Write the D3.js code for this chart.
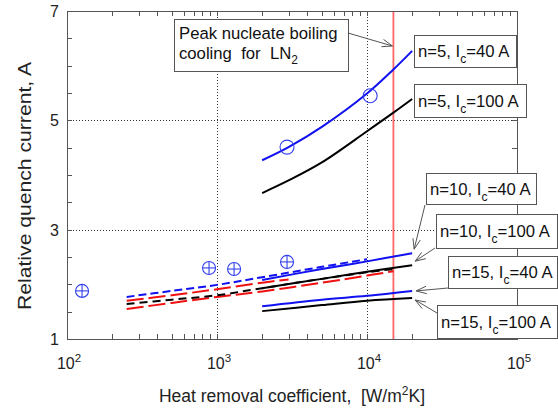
<!DOCTYPE html>
<html><head><meta charset="utf-8">
<script src="https://cdn.jsdelivr.net/npm/d3@7/dist/d3.min.js"></script>
<style>
body{margin:0;background:#fff}
svg{display:block;font-family:Arial,"Liberation Sans",sans-serif}
</style>
</head><body>
<svg id="chart" width="558" height="408"></svg>
<script>
// ---------- data ----------
const xTickValues = [1e2, 1e3, 1e4, 1e5];
const xTickExps = ["2", "3", "4", "5"];
const yTickValues = [1, 3, 5, 7];
const yMinorTicks = [1, 1.5, 2, 2.5, 3, 3.5, 4, 4.5, 5, 5.5, 6, 6.5, 7];
const gridX = [1e3, 1e4];
const gridY = [3, 5];
const hPeak = 15000;

// n=5 curves
const h5 = [2000, 3000, 5000, 10000, 15000, 20000];
const n5_Ic40 = [4.27, 4.51, 4.88, 5.49, 5.93, 6.27];
const n5_Ic100 = [3.67, 3.90, 4.23, 4.80, 5.14, 5.39];

// n=10 / n=15 solid curves
const hLow = [2000, 5000, 10000, 20000];
const n10_Ic40 = [2.08, 2.28, 2.42, 2.57];
const n10_Ic100 = [1.93, 2.10, 2.23, 2.35];
const n15_Ic40 = [1.60, 1.72, 1.79, 1.88];
const n15_Ic100 = [1.51, 1.62, 1.70, 1.75];

// dashed curves
const hDashBlue = [250, 500, 1000, 2000, 5000, 10000];
const dashBlue = [1.77, 1.88, 1.99, 2.13, 2.32, 2.46];
const hDashBlack = [250, 500, 1000, 2000, 5000, 10000, 15000];
const dashBlack = [1.64, 1.72, 1.80, 1.93, 2.10, 2.22, 2.28];
const hDashRedUp = [250, 500, 1000, 2000, 3000];
const dashRedUp = [1.70, 1.80, 1.91, 2.03, 2.09];
const hDashRedLow = [250, 500, 1000, 2000, 5000, 10000, 15000];
const dashRedLow = [1.55, 1.66, 1.77, 1.87, 2.03, 2.16, 2.24];

// experimental points
const expOpenH = [2930, 10500];
const expOpenV = [4.51, 5.45];
const expPlusH = [126, 885, 1300, 2930];
const expPlusV = [1.88, 2.30, 2.28, 2.41];

// labels
const labels = [
  {n: "5", ic: "40"}, {n: "5", ic: "100"}, {n: "10", ic: "40"},
  {n: "10", ic: "100"}, {n: "15", ic: "40"}, {n: "15", ic: "100"}
];

// ---------- layout ----------
const L = 67, R = 517, T = 11, B = 339;
const svg = d3.select("#chart");
const x = d3.scaleLog().domain([1e2, 1e5]).range([L, R]);
const y = d3.scaleLinear().domain([1, 7]).range([B, T]);
const axisColor = "#555";
const blue = "#1010f0", black = "#000", red = "#f01010";

// grid
const grid = svg.append("g").attr("stroke", "#333").attr("stroke-width", 1).attr("stroke-dasharray", "1,2");
grid.selectAll(".gx").data(gridX).enter().append("line")
  .attr("x1", d => Math.round(x(d)) + 0.5).attr("x2", d => Math.round(x(d)) + 0.5)
  .attr("y1", T).attr("y2", B);
grid.selectAll(".gy").data(gridY).enter().append("line")
  .attr("y1", d => Math.round(y(d)) + 0.5).attr("y2", d => Math.round(y(d)) + 0.5)
  .attr("x1", L).attr("x2", R);

// peak boiling line
svg.append("line").attr("x1", x(hPeak)).attr("x2", x(hPeak))
  .attr("y1", T).attr("y2", B)
  .attr("stroke", "#ff6666").attr("stroke-width", 1.8);

// curves
const line = d3.line().x(d => x(d[0])).y(d => y(d[1])).curve(d3.curveCatmullRom.alpha(0.5));
function curve(hs, vs, color, dash, w) {
  svg.append("path").datum(hs.map((h, i) => [h, vs[i]]))
    .attr("d", line).attr("fill", "none").attr("stroke", color)
    .attr("stroke-width", w || 2).attr("stroke-dasharray", dash || null);
}
curve(hDashRedUp, dashRedUp, red, "17,5");
curve(hDashRedLow, dashRedLow, red, "17,5");
curve(hDashBlack, dashBlack, black, "8,5");
curve(hDashBlue, dashBlue, blue, "8,4");
curve(h5, n5_Ic40, blue);
curve(h5, n5_Ic100, black);
curve(hLow, n10_Ic40, blue);
curve(hLow, n10_Ic100, black);
curve(hLow, n15_Ic40, blue);
curve(hLow, n15_Ic100, black);

// points
svg.selectAll(".po").data(expOpenH).enter().append("circle")
  .attr("cx", d => x(d)).attr("cy", (d, i) => y(expOpenV[i])).attr("r", 7)
  .attr("fill", "none").attr("stroke", "#3340ee").attr("stroke-width", 1.1);
const pp = svg.selectAll(".pp").data(expPlusH).enter().append("g")
  .attr("transform", (d, i) => `translate(${x(d)},${y(expPlusV[i])})`)
  .attr("stroke", "#3340ee").attr("stroke-width", 1.1).attr("fill", "none");
pp.append("circle").attr("r", 6.5);
pp.append("line").attr("x1", -6.5).attr("x2", 6.5);
pp.append("line").attr("y1", -6.5).attr("y2", 6.5);

// axes frame and ticks
const ax = svg.append("g").attr("stroke", axisColor).attr("stroke-width", 1);
ax.append("rect").attr("x", L + 0.5).attr("y", T + 0.5).attr("width", R - L).attr("height", B - T).attr("fill", "none");
const xMinor = x.ticks();
const tk = 5;
xMinor.forEach(v => {
  const px = Math.round(x(v)) + 0.5;
  ax.append("line").attr("x1", px).attr("x2", px).attr("y1", B).attr("y2", B - tk);
  ax.append("line").attr("x1", px).attr("x2", px).attr("y1", T).attr("y2", T + tk);
});
yMinorTicks.forEach(v => {
  const py = Math.round(y(v)) + 0.5;
  ax.append("line").attr("x1", L).attr("x2", L + tk).attr("y1", py).attr("y2", py);
  ax.append("line").attr("x1", R).attr("x2", R - tk).attr("y1", py).attr("y2", py);
});

// tick labels
const tl = svg.append("g").attr("fill", "#222").attr("font-size", 16);
xTickValues.forEach((v, i) => {
  const t = tl.append("text").attr("x", x(v) + 2).attr("y", 369).attr("text-anchor", "middle");
  t.append("tspan").text("10");
  t.append("tspan").attr("dy", -7).attr("font-size", 11.5).text(xTickExps[i]);
});
yTickValues.forEach(v => {
  tl.append("text").attr("x", 59).attr("y", y(v) + 6).attr("text-anchor", "end").text(v);
});

// axis titles
const xt = svg.append("text").attr("x", 292).attr("y", 402).attr("text-anchor", "middle")
  .attr("font-size", 17.5).attr("fill", "#222").style("white-space", "pre");
xt.append("tspan").text("Heat removal coefficient,  [W/m");
xt.append("tspan").attr("dy", -7).attr("font-size", 12).text("2");
xt.append("tspan").attr("dy", 7).text("K]");
svg.append("text").attr("transform", "translate(31,186) rotate(-90)").attr("text-anchor", "middle")
  .attr("font-size", 19).attr("fill", "#222")
  .attr("textLength", 248).attr("lengthAdjust", "spacingAndGlyphs")
  .text("Relative quench current, A");

// annotations
function arrow(x1, y1, x2, y2) {
  const g = svg.append("g").attr("stroke", "#555").attr("stroke-width", 1).attr("fill", "none");
  g.append("line").attr("x1", x1).attr("y1", y1).attr("x2", x2).attr("y2", y2);
  const a = Math.atan2(y2 - y1, x2 - x1), len = 11, sp = 0.35;
  g.append("path").attr("d",
    `M${x2 - len * Math.cos(a - sp)},${y2 - len * Math.sin(a - sp)}L${x2},${y2}L${x2 - len * Math.cos(a + sp)},${y2 - len * Math.sin(a + sp)}`);
}
// peak box
arrow(348, 33, x(hPeak) - 1, y(6.36));
svg.append("rect").attr("x", 174.5).attr("y", 19.5).attr("width", 174).attr("height", 52)
  .attr("fill", "#fff").attr("stroke", "#555");
const pk = svg.append("g").attr("font-size", 16.7).attr("fill", "#111");
pk.append("text").attr("x", 179).attr("y", 39).text("Peak nucleate boiling");
const pk2 = pk.append("text").attr("x", 179).attr("y", 59).style("white-space", "pre");
pk2.append("tspan").text("cooling  for  LN");
pk2.append("tspan").attr("dy", 5).attr("font-size", 12).text("2");

const boxes = [
  {x: 414, y: 35, w: 102, h: 32},
  {x: 414, y: 84, w: 112, h: 33},
  {x: 426, y: 173, w: 110, h: 31},
  {x: 436, y: 214, w: 121, h: 34},
  {x: 448, y: 256, w: 109, h: 32},
  {x: 437, y: 305, w: 120, h: 33}
];
const arrows = [
  null, null,
  {x1: 425, y1: 205, h: 20000, v: n10_Ic40[3], dx: 2, dy: -4},
  {x1: 435, y1: 248, h: 20000, v: n10_Ic100[3], dx: 3, dy: -4},
  {x1: 448, y1: 288, h: 20000, v: n15_Ic40[3], dx: 4, dy: 0},
  {x1: 437, y1: 313, h: 20000, v: n15_Ic100[3], dx: 3, dy: 2}
];
arrows.forEach(a => { if (a) arrow(a.x1, a.y1, x(a.h) + a.dx, y(a.v) + a.dy); });
boxes.forEach((b, i) => {
  svg.append("rect").attr("x", b.x + 0.5).attr("y", b.y + 0.5).attr("width", b.w).attr("height", b.h)
    .attr("fill", "#fff").attr("stroke", "#555");
  const t = svg.append("text").attr("x", b.x + 4).attr("y", b.y + b.h / 2 + 6)
    .attr("font-size", 16.7).attr("fill", "#111");
  t.append("tspan").text(`n=${labels[i].n}, I`);
  t.append("tspan").attr("dy", 6).attr("font-size", 12).text("c");
  t.append("tspan").attr("dy", -6).text(`=${labels[i].ic} A`);
});
</script>
</body></html>
